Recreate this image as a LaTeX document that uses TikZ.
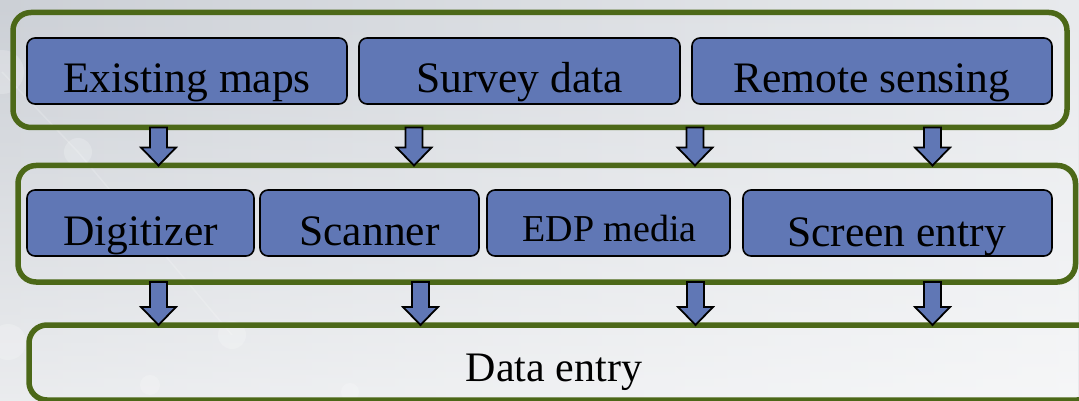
\documentclass[tikz,border=0pt]{standalone}
\usepackage{fontspec}
\setmainfont{Liberation Serif}
\usetikzlibrary{calc,fadings}

\definecolor{boxblue}{RGB}{96,119,181}
\definecolor{framegreen}{RGB}{76,104,24}
\definecolor{bgdark}{RGB}{204,208,214}
\definecolor{bglight}{RGB}{232,234,237}

\tikzset{
  panel/.style={draw=framegreen, line width=5.5pt, rounded corners=18pt,
                inner sep=0pt, outer sep=0pt, anchor=north west},
  source/.style={draw=black, fill=boxblue, line width=1.6pt, rounded corners=8pt,
                 inner sep=0pt, outer sep=0pt, anchor=north west, minimum height=66pt},
  lbl/.style={anchor=base, inner sep=0pt, font=\fontsize{43.5}{50}\selectfont},
  flow/.style={draw=black, fill=boxblue, line width=1.8pt, line join=miter},
  dot/.style={fill=white, opacity=0.2},
}

% block arrow from the first point down to the second one
\newcommand\flowarrow[2]{%
  \draw[flow] let \p1=(#1), \p2=(#2) in
    (\x1-8.5pt,\y1) -- (\x1+8.5pt,\y1) -- (\x1+8.5pt,\y2+18pt)
    -- (\x1+17.5pt,\y2+18pt) -- (\x1,\y2) -- (\x1-17.5pt,\y2+18pt)
    -- (\x1-8.5pt,\y2+18pt) -- cycle;}

\begin{document}
\begin{tikzpicture}[x=1pt, y=-1pt]
  \useasboundingbox (0,0) rectangle (1079,401);

  % background
  \shade[left color=bgdark, right color=bglight] (0,0) rectangle (1079,401);
  \fill[white, path fading=north, opacity=0.6] (0,0) rectangle (1079,401);
  \fill[dot] (2,72) circle (22);
  \fill[dot] (78,152) circle (14);
  \fill[dot] (8,342) circle (18);
  \fill[dot] (232,335) circle (14);
  \fill[dot] (150,385) circle (10);
  \fill[dot] (350,392) circle (9);
  \draw[white, opacity=0.18, line width=1.5pt] (2,72) -- (78,152) -- (232,335);

  % grouping panels
  \node[panel, minimum width=1054pt, minimum height=115pt] (src) at (13,12.5) {};
  \node[panel, minimum width=1057.5pt, minimum height=116.5pt] (dev) at (18,165.5) {};
  \node[panel, minimum width=1066pt, minimum height=75pt] (out) at (29,325) {};

  % data sources
  \node[source, minimum width=320pt] (em) at (27,38) {};
  \node[source, minimum width=321pt] (sd) at (359,38) {};
  \node[source, minimum width=360pt] (rs) at (692,38) {};
  \node[lbl] at ($(em.south)+(0pt,11pt)$) {Existing maps};
  \node[lbl] at ($(sd.south)+(0pt,11pt)$) {Survey data};
  \node[lbl] at ($(rs.south)+(0pt,11pt)$) {Remote sensing};

  % input devices
  \node[source, minimum width=227pt] (dg) at (27,190) {};
  \node[source, minimum width=219pt] (sc) at (260,190) {};
  \node[source, minimum width=243pt] (edp) at (487,190) {};
  \node[source, minimum width=309pt] (se) at (743,190) {};
  \node[lbl] at ($(dg.south)+(0pt,11pt)$) {Digitizer};
  \node[lbl] at ($(sc.south)+(0pt,11pt)$) {Scanner};
  \node[lbl, font=\fontsize{38}{44}\selectfont] at ($(edp.south)+(1pt,15pt)$) {EDP media};
  \node[lbl] at ($(se.south)+(-1pt,10pt)$) {Screen entry};

  % result
  \node[lbl, font=\fontsize{42}{48}\selectfont] (de) at (554,381) {Data entry};

  % arrow positions
  \coordinate (u1) at (158.5,0);
  \coordinate (u2) at (414,0);
  \coordinate (u3) at (695,0);
  \coordinate (u4) at (932.5,0);
  \coordinate (v1) at (158.5,0);
  \coordinate (v2) at (420.5,0);
  \coordinate (v3) at (695.5,0);
  \coordinate (v4) at (932.5,0);

  \flowarrow{u1 |- src.south}{u1 |- dev.north}
  \flowarrow{u2 |- src.south}{u2 |- dev.north}
  \flowarrow{u3 |- src.south}{u3 |- dev.north}
  \flowarrow{u4 |- src.south}{u4 |- dev.north}
  \flowarrow{v1 |- dev.south}{v1 |- out.north}
  \flowarrow{v2 |- dev.south}{v2 |- out.north}
  \flowarrow{v3 |- dev.south}{v3 |- out.north}
  \flowarrow{v4 |- dev.south}{v4 |- out.north}
\end{tikzpicture}
\end{document}
